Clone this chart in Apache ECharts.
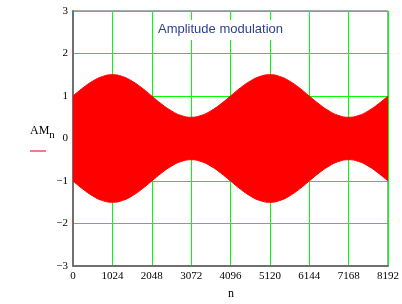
<!DOCTYPE html>
<html>
<head>
<meta charset="utf-8">
<script src="https://cdn.jsdelivr.net/npm/echarts@6/dist/echarts.min.js"></script>
<style>
  html, body { margin: 0; padding: 0; background: #fff; }
  #chart { width: 402px; height: 304px; }
</style>
</head>
<body>
<div id="chart"></div>
<script>
  var nValues = [0, 256, 512, 768, 1024, 1280, 1536, 1792, 2048, 2304, 2560, 2816, 3072,
    3328, 3584, 3840, 4096, 4352, 4608, 4864, 5120, 5376, 5632, 5888, 6144,
    6400, 6656, 6912, 7168, 7424, 7680, 7936, 8192];
  var upperEnv = [1.0, 1.19, 1.35, 1.46, 1.5, 1.46, 1.35, 1.19, 1.0, 0.81, 0.65, 0.54, 0.5,
    0.54, 0.65, 0.81, 1.0, 1.19, 1.35, 1.46, 1.5, 1.46, 1.35, 1.19, 1.0,
    0.81, 0.65, 0.54, 0.5, 0.54, 0.65, 0.81, 1.0];
  var lowerEnv = [-1.0, -1.19, -1.35, -1.46, -1.5, -1.46, -1.35, -1.19, -1.0, -0.81, -0.65, -0.54, -0.5,
    -0.54, -0.65, -0.81, -1.0, -1.19, -1.35, -1.46, -1.5, -1.46, -1.35, -1.19, -1.0,
    -0.81, -0.65, -0.54, -0.5, -0.54, -0.65, -0.81, -1.0];
  var xTicks = [0, 1024, 2048, 3072, 4096, 5120, 6144, 7168, 8192];
  var yTicks = [-3, -2, -1, 0, 1, 2, 3];

  function pairs(ys) {
    return nValues.map(function (n, i) { return [n, ys[i]]; });
  }

  var chart = echarts.init(document.getElementById('chart'));

  var options = {
    animation: false,
    title: {
      text: 'Amplitude modulation',
      left: 155,
      top: 20,
      backgroundColor: '#fff',
      padding: [3, 4, 4, 3],
      textStyle: {
        color: '#2e3f8f',
        fontFamily: 'Liberation Sans, Arial, sans-serif',
        fontSize: 13,
        fontWeight: 'normal'
      }
    },
    grid: {
      left: 73,
      right: 12,
      top: 11,
      bottom: 38,
      show: true,
      borderColor: '#555',
      borderWidth: 1
    },
    xAxis: {
      type: 'value',
      min: xTicks[0],
      max: xTicks[xTicks.length - 1],
      interval: 1024,
      axisLine: { show: true, onZero: false, lineStyle: { color: '#707070', width: 2 } },
      axisTick: { show: false },
      axisLabel: {
        color: '#000',
        fontFamily: 'Liberation Serif, Times New Roman, serif',
        fontSize: 11,
        margin: 5,
        formatter: function (v) { return String(v); }
      },
      splitLine: { show: true, lineStyle: { color: '#00ff00', width: 1 } }
    },
    yAxis: {
      type: 'value',
      min: yTicks[0],
      max: yTicks[yTicks.length - 1],
      interval: 1,
      axisLine: { show: true, onZero: false, lineStyle: { color: '#707070', width: 2 } },
      axisTick: { show: false },
      axisLabel: {
        color: '#000',
        fontFamily: 'Liberation Serif, Times New Roman, serif',
        fontSize: 11,
        margin: 5,
        formatter: function (v) { return v < 0 ? '\u2212' + (-v) : String(v); }
      },
      splitLine: { show: true, lineStyle: { color: '#00ff00', width: 1 } }
    },
    graphic: [
      {
        type: 'text',
        left: 30,
        top: 125,
        style: {
          text: '{a|AM}{b|n}',
          rich: {
            a: { fontFamily: 'Liberation Serif, serif', fontSize: 12, fill: '#000' },
            b: { fontFamily: 'Liberation Serif, serif', fontSize: 11, fill: '#000', padding: [8, 0, 0, 0] }
          }
        }
      },
      {
        type: 'line',
        shape: { x1: 30, y1: 151, x2: 46, y2: 151 },
        style: { stroke: '#e00000', lineWidth: 1 }
      },
      {
        type: 'text',
        left: 228,
        top: 288,
        style: { text: 'n', fontFamily: 'Liberation Serif, serif', fontSize: 12, fill: '#000' }
      }
    ],
    // the two halves overlap across zero so no seam shows between them
    series: [
      {
        name: 'upper',
        type: 'line',
        data: pairs(upperEnv),
        smooth: true,
        showSymbol: false,
        lineStyle: { color: '#ff0000', width: 1 },
        areaStyle: { color: '#ff0000', opacity: 1, origin: -0.3 }
      },
      {
        name: 'lower',
        type: 'line',
        data: pairs(lowerEnv),
        smooth: true,
        showSymbol: false,
        lineStyle: { color: '#ff0000', width: 1 },
        areaStyle: { color: '#ff0000', opacity: 1, origin: 0.3 }
      }
    ]
  };

  chart.setOption(options);
</script>
</body>
</html>
